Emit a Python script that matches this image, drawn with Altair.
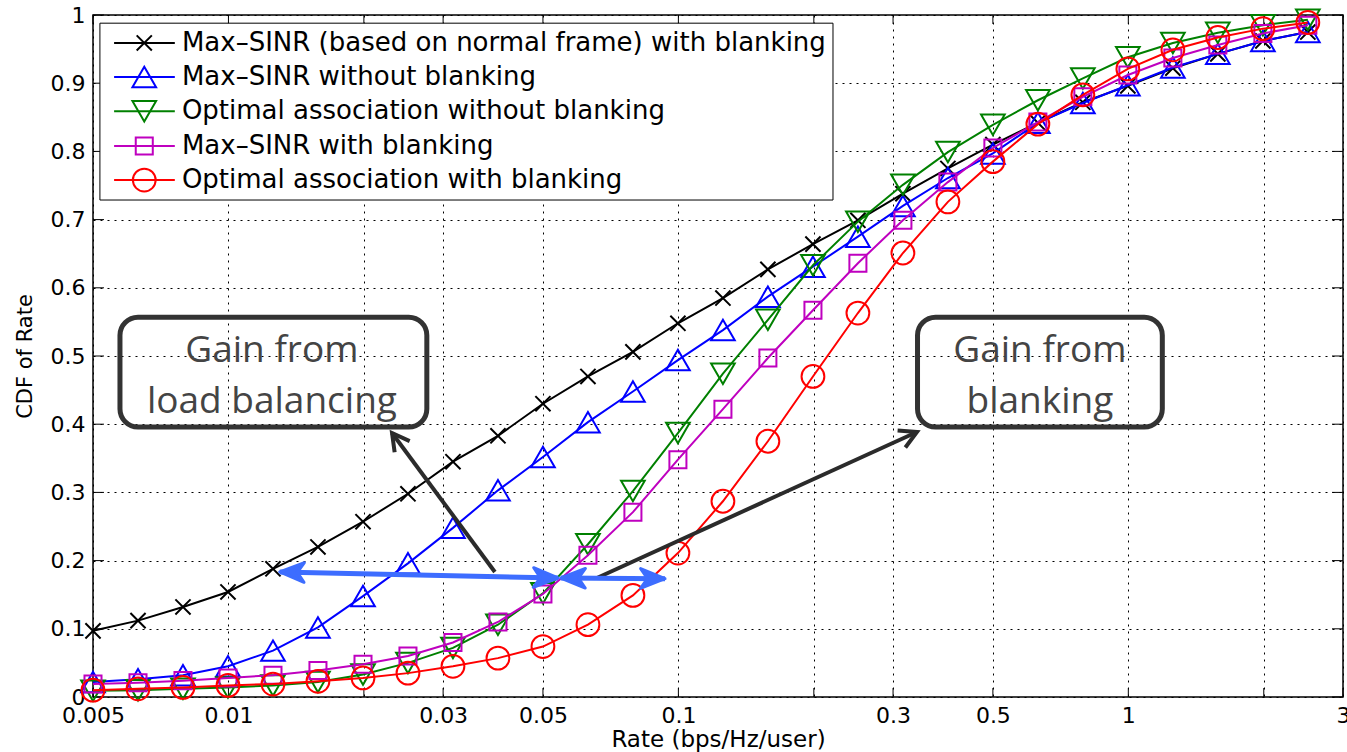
import altair as alt
import pandas as pd

# ---------------- data ----------------
rate = [0.005, 0.006295, 0.007924, 0.009976, 0.01256, 0.01581, 0.01991, 0.02506,
        0.03155, 0.03972, 0.05, 0.06295, 0.07924, 0.09976, 0.1256, 0.1581, 0.1991,
        0.2506, 0.3155, 0.3972, 0.5, 0.6295, 0.7924, 0.9976, 1.256, 1.581, 1.991, 2.506]

series_names = [
    "Max\u2013SINR (based on normal frame) with blanking",
    "Max\u2013SINR without blanking",
    "Optimal association without blanking",
    "Max\u2013SINR with blanking",
    "Optimal association with blanking",
]

cdf_maxsinr_normal = [0.097, 0.112, 0.132, 0.154, 0.188, 0.220, 0.257, 0.298, 0.345, 0.383,
                      0.430, 0.470, 0.506, 0.548, 0.585, 0.627, 0.664, 0.699, 0.738, 0.775,
                      0.810, 0.842, 0.872, 0.896, 0.922, 0.943, 0.962, 0.975]
cdf_maxsinr_noblank = [0.022, 0.026, 0.032, 0.045, 0.068, 0.102, 0.148, 0.196, 0.248, 0.303,
                       0.352, 0.403, 0.448, 0.494, 0.538, 0.587, 0.631, 0.675, 0.720, 0.761,
                       0.797, 0.842, 0.871, 0.897, 0.923, 0.943, 0.962, 0.975]
cdf_opt_noblank = [0.009, 0.010, 0.012, 0.014, 0.017, 0.022, 0.033, 0.050, 0.072, 0.106,
                   0.152, 0.224, 0.302, 0.387, 0.474, 0.553, 0.633, 0.697, 0.751, 0.799,
                   0.839, 0.875, 0.907, 0.938, 0.959, 0.974, 0.985, 0.993]
cdf_maxsinr_blank = [0.019, 0.021, 0.024, 0.028, 0.032, 0.039, 0.048, 0.060, 0.080, 0.110,
                     0.151, 0.208, 0.271, 0.348, 0.422, 0.497, 0.567, 0.636, 0.699, 0.755,
                     0.805, 0.843, 0.880, 0.912, 0.937, 0.956, 0.973, 0.985]
cdf_opt_blank = [0.010, 0.012, 0.014, 0.017, 0.019, 0.023, 0.028, 0.035, 0.045, 0.057,
                 0.074, 0.106, 0.149, 0.211, 0.287, 0.375, 0.470, 0.563, 0.651, 0.726,
                 0.785, 0.840, 0.883, 0.921, 0.949, 0.967, 0.980, 0.989]

all_cdfs = [cdf_maxsinr_normal, cdf_maxsinr_noblank, cdf_opt_noblank, cdf_maxsinr_blank, cdf_opt_blank]

x_tick_values = [0.005, 0.01, 0.02, 0.03, 0.05, 0.1, 0.2, 0.3, 0.5, 1, 2, 3]
y_tick_values = [0, 0.1, 0.2, 0.3, 0.4, 0.5, 0.6, 0.7, 0.8, 0.9, 1]

# annotation boxes (data coords)
box_x = [0.00574, 0.34]
box_x2 = [0.0276, 1.19]
box_y = [0.557, 0.557]
box_y2 = [0.396, 0.396]
box_text_x = [0.01249, 0.636]
box_line1 = ["Gain from", "Gain from"]
box_line2 = ["load balancing", "blanking"]
box_line1_y = [0.491, 0.491]
box_line2_y = [0.416, 0.416]

# arrows (data coords): tail -> head
black_arrow_x = [0.0391, 0.0659]
black_arrow_y = [0.1833, 0.1745]
black_arrow_x2 = [0.0231, 0.339]
black_arrow_y2 = [0.3871, 0.3886]
black_arrow_angle = [233.5, 335.5]

blue_arrow_x = [0.0130, 0.0548]
blue_arrow_y = [0.1833, 0.1745]
blue_arrow_x2 = [0.0540, 0.0934]
blue_arrow_y2 = [0.1745, 0.1735]
blue_head_x = [0.0130, 0.0540, 0.0548, 0.0934]
blue_head_y = [0.1833, 0.1745, 0.1745, 0.1735]
blue_head_angle = [181.2, 1.2, 180.5, 0.5]

# legend (data coords)
legend_box = dict(x=0.00518, x2=0.2206, y=0.988, y2=0.7287)
legend_rows_y = [0.959, 0.909, 0.859, 0.808, 0.758]
legend_line_x = [0.00557, 0.0076]
legend_marker_x = 0.0065
legend_text_x = 0.00788

# ---------------- styles ----------------
colors = ["#000000", "#0000ff", "#008000", "#bf00bf", "#ff0000"]
X_PATH = "M-1,-1L1,1M-1,1L1,-1"
shapes = [X_PATH, "triangle-up", "triangle-down", "square", "circle"]
sizes = [230, 560, 560, 290, 520]
CHEVRON = "M-1,-0.55L0,0L-1,0.55"
SWEPT = "M0,0L-1,-0.4L-0.72,0L-1,0.4Z"

W, H = 1250, 682
FONT = "DejaVu Sans"

xscale = alt.Scale(type="log", domain=[0.005, 3], nice=False)
yscale = alt.Scale(domain=[0, 1], nice=False)

xaxis = alt.Axis(values=x_tick_values, format="~g",
                 labelExpr="indexof([0.02, 0.2, 2], datum.value) >= 0 ? '' : datum.label",
                 title="Rate (bps/Hz/user)", titleY=49, titleBaseline="alphabetic",
                 titleFontSize=23, labelPadding=8, labelFlush=False, labelOverlap=False,
                 grid=True)
yaxis = alt.Axis(values=y_tick_values, format="~g", title="CDF of Rate",
                 titleAngle=270, titleX=-68, titleY=341, titleBaseline="middle",
                 titleAlign="center", titleFontSize=21, labelPadding=8, labelFlush=False,
                 labelOverlap=False, grid=True)


def X(field="x"):
    return alt.X(f"{field}:Q", scale=xscale, axis=xaxis)


def Y(field="y"):
    return alt.Y(f"{field}:Q", scale=yscale, axis=yaxis)


layers = []

# axes carrier
axis_df = pd.DataFrame({"x": [0.005, 3], "y": [0, 1]})
layers.append(alt.Chart(axis_df).mark_point(opacity=0).encode(x=X(), y=Y()))

# inward ticks
xt_df = pd.DataFrame({"x": x_tick_values})
yt_df = pd.DataFrame({"y": y_tick_values})
layers.append(alt.Chart(xt_df).mark_rule(color="black", strokeWidth=1).encode(
    x=X(), y=alt.value(H), y2=alt.value(H - 9)))
layers.append(alt.Chart(xt_df).mark_rule(color="black", strokeWidth=1).encode(
    x=X(), y=alt.value(0), y2=alt.value(9)))
layers.append(alt.Chart(yt_df).mark_rule(color="black", strokeWidth=1).encode(
    y=Y(), x=alt.value(0), x2=alt.value(11)))
layers.append(alt.Chart(yt_df).mark_rule(color="black", strokeWidth=1).encode(
    y=Y(), x=alt.value(W), x2=alt.value(W - 11)))

# series
for name, cdf, col, shp, sz in zip(series_names, all_cdfs, colors, shapes, sizes):
    df = pd.DataFrame({"x": rate, "y": cdf, "series": name})
    layers.append(alt.Chart(df).mark_line(color=col, strokeWidth=2).encode(x=X(), y=Y()))
    layers.append(alt.Chart(df).mark_point(shape=shp, size=sz, color=col, filled=False,
                                           strokeWidth=2, opacity=1).encode(x=X(), y=Y()))

# legend
lb = pd.DataFrame([legend_box])
layers.append(alt.Chart(lb).mark_rect(fill="white", stroke="black", strokeWidth=1).encode(
    x=X("x"), x2="x2:Q", y=Y("y"), y2="y2:Q"))
for i, (name, col, shp, sz) in enumerate(zip(series_names, colors, shapes, sizes)):
    ldf = pd.DataFrame({"x": [legend_line_x[0]], "x2": [legend_line_x[1]], "xm": [legend_marker_x],
                        "xt": [legend_text_x], "y": [legend_rows_y[i]], "label": [name]})
    layers.append(alt.Chart(ldf).mark_rule(color=col, strokeWidth=2).encode(
        x=X("x"), x2="x2:Q", y=Y("y")))
    layers.append(alt.Chart(ldf).mark_point(shape=shp, size=sz, color=col, filled=False,
                                            strokeWidth=2, opacity=1).encode(x=X("xm"), y=Y("y")))
    layers.append(alt.Chart(ldf).mark_text(font=FONT, fontSize=26, color="black", align="left",
                                           baseline="middle").encode(x=X("xt"), y=Y("y"), text="label:N"))

# annotation boxes
bdf = pd.DataFrame({"x": box_x, "x2": box_x2, "y": box_y, "y2": box_y2, "xt": box_text_x,
                    "l1": box_line1, "l2": box_line2, "ly1": box_line1_y, "ly2": box_line2_y})
layers.append(alt.Chart(bdf).mark_rect(fill="white", fillOpacity=0, stroke="#333333", strokeWidth=5,
                                       cornerRadius=18).encode(x=X("x"), x2="x2:Q", y=Y("y"), y2="y2:Q"))
layers.append(alt.Chart(bdf).mark_text(font="Open Sans", fontSize=37, color="#444444", align="center",
                                       baseline="alphabetic").encode(x=X("xt"), y=Y("ly1"), text="l1:N"))
layers.append(alt.Chart(bdf).mark_text(font="Open Sans", fontSize=37, color="#444444", align="center",
                                       baseline="alphabetic").encode(x=X("xt"), y=Y("ly2"), text="l2:N"))

# black arrows
adf = pd.DataFrame({"x": black_arrow_x, "y": black_arrow_y, "x2": black_arrow_x2,
                    "y2": black_arrow_y2, "ang": black_arrow_angle})
layers.append(alt.Chart(adf).mark_rule(color="#2b2b2b", strokeWidth=4).encode(
    x=X("x"), y=Y("y"), x2="x2:Q", y2="y2:Q"))
layers.append(alt.Chart(adf).mark_point(shape=CHEVRON, size=1156, filled=False, color="#2b2b2b",
                                        strokeWidth=4, opacity=1).encode(
    x=X("x2"), y=Y("y2"), angle=alt.Angle("ang:Q", scale=None)))

# blue double arrows
bl = pd.DataFrame({"x": blue_arrow_x, "y": blue_arrow_y, "x2": blue_arrow_x2, "y2": blue_arrow_y2})
layers.append(alt.Chart(bl).mark_rule(color="#3d6dff", strokeWidth=5).encode(
    x=X("x"), y=Y("y"), x2="x2:Q", y2="y2:Q"))
bh = pd.DataFrame({"x": blue_head_x, "y": blue_head_y, "ang": blue_head_angle})
layers.append(alt.Chart(bh).mark_point(shape=SWEPT, size=2400, filled=True, color="#3d6dff",
                                       stroke="#3d6dff", strokeWidth=3, opacity=1,
                                       strokeJoin="round").encode(
    x=X("x"), y=Y("y"), angle=alt.Angle("ang:Q", scale=None)))

chart = alt.layer(*layers).properties(
    width=W, height=H,
    padding={"left": 93, "top": 15, "right": 4, "bottom": 55},
    autosize=alt.AutoSizeParams(type="none"),
).configure_view(stroke="black", strokeWidth=1.5).configure_axis(
    labelFont=FONT, labelFontSize=22, labelColor="black",
    titleFont=FONT, titleColor="black", titleFontWeight="normal",
    gridColor="black", gridDash=[2, 5], gridOpacity=1, gridWidth=1,
    domain=False, ticks=False,
)

chart.save("out.html", embed_options={"renderer": "svg", "actions": False})
